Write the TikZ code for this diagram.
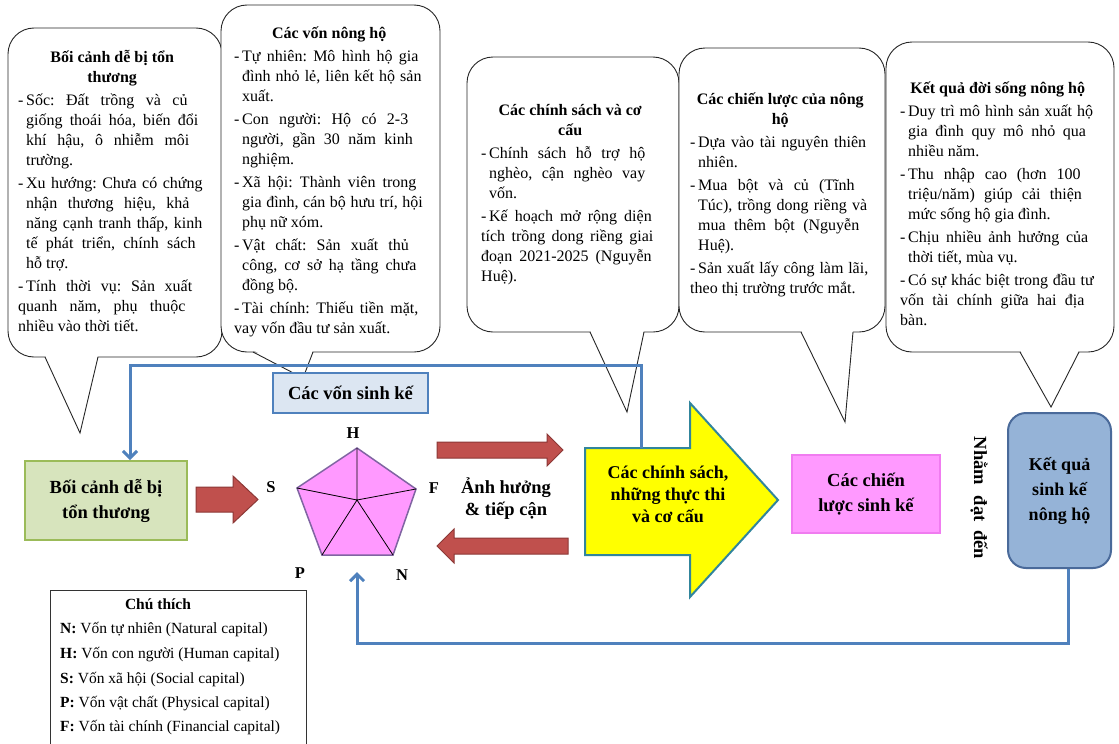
\documentclass[tikz,border=0pt]{standalone}
\usepackage{fontspec}
\setmainfont{Liberation Serif}
\usetikzlibrary{arrows.meta}
\definecolor{linkblue}{HTML}{4F81BD}
\definecolor{bcfill}{HTML}{D7E4BD}
\definecolor{bcdraw}{HTML}{9BBB59}
\definecolor{vskfill}{HTML}{DCE6F2}
\definecolor{vskdraw}{HTML}{4F81BD}
\definecolor{pentfill}{HTML}{FF99FF}
\definecolor{pentdraw}{HTML}{8064A2}
\definecolor{redfill}{HTML}{C0504D}
\definecolor{reddraw}{HTML}{8C3836}
\definecolor{yelfill}{HTML}{FFFF00}
\definecolor{yeldraw}{HTML}{31859C}
\definecolor{pinkfill}{HTML}{FF99FF}
\definecolor{pinkdraw}{HTML}{F07CF0}
\definecolor{kqfill}{HTML}{95B3D7}
\definecolor{kqdraw}{HTML}{4A6A9A}
\newcommand{\cset}{\frenchspacing\spaceskip=0.25em plus 0.8em minus 0.15em\relax\parskip=3pt\relax\parindent=0pt\relax\hyphenpenalty=10000\relax\exhyphenpenalty=10000\relax\tolerance=10000\relax}
\newcommand{\itm}[1]{\par\hangindent=8pt\relax\hangafter=1\relax\noindent\makebox[8pt][l]{-}#1}
\newcommand{\ctitle}[1]{{\centering\bfseries\rule{0pt}{15pt}#1\par}}
\newcommand{\callout}[8]{%
  \draw[callbox] (#1,#2) rectangle (#3,#4);
  \fill[white] (#5,#4-2) -- (#7,#8) -- (#6,#4-2) -- cycle;
  \draw[calledge] (#5,#4) -- (#7,#8) -- (#6,#4);}
\begin{document}
\frenchspacing
\begin{tikzpicture}[x=1pt,y=-1pt,
  callbox/.style={draw=black!85, line width=0.9pt, fill=white, rounded corners=26pt},
  calledge/.style={draw=black!85, line width=0.9pt, line join=miter},
  calltext/.style={anchor=north west, inner sep=0pt, text width=#1,
    font=\fontsize{16}{20}\selectfont},
  mainfont/.style={font=\fontsize{18.5}{25}\selectfont\bfseries, align=center},
  bcbox/.style={mainfont, draw=bcdraw, fill=bcfill, line width=2pt, minimum width=162pt, minimum height=79pt, inner sep=0pt},
  vskbox/.style={mainfont, draw=vskdraw, fill=vskfill, line width=2pt, minimum width=155pt, minimum height=40pt, inner sep=0pt},
  pinkbox/.style={mainfont, draw=pinkdraw, fill=pinkfill, line width=1.5pt, minimum width=148pt, minimum height=78pt, inner sep=0pt},
  kqbox/.style={font=\fontsize{18}{25}\selectfont\bfseries, align=center, draw=kqdraw, fill=kqfill, line width=2pt, rounded corners=18pt, minimum width=103pt, minimum height=155pt, inner sep=0pt},
  redarrow/.style={fill=redfill, draw=reddraw, line width=1pt},
  yelarrow/.style={fill=yelfill, draw=yeldraw, line width=2pt, line join=miter},
  pent/.style={fill=pentfill, draw=pentdraw, line width=1.5pt, line join=miter},
  pentin/.style={draw=black, line width=0.8pt},
  plabel/.style={font=\fontsize{16.5}{20}\selectfont\bfseries, inner sep=0pt},
  blueline/.style={draw=linkblue, line width=3pt, -{Straight Barb[length=7pt,width=14pt]}},
  legbox/.style={draw=black!80, line width=0.8pt, minimum width=256pt, minimum height=170pt, anchor=north west, inner sep=0pt},
  legtext/.style={font=\fontsize{15.5}{20}\selectfont, anchor=base west, inner sep=0pt}
]
\useasboundingbox (0,0) rectangle (1119,744);
\fill[white] (0,0) rectangle (1119,744);

% callouts
\callout{8}{28}{222}{357}{45}{98}{80}{433}
\callout{221}{5}{440}{352}{253}{313}{303}{378}
\callout{467}{57}{679}{332}{590}{644}{627}{412}
\callout{679}{48}{885}{332}{801}{853}{845}{422}
\callout{886}{42}{1114}{352}{1020}{1079}{1051}{407}

\node[calltext=188pt] (t1) at (18,47) {\cset\ctitle{Bối cảnh dễ bị tổn\\ thương}%
\itm{Sốc: Đất trồng và củ\linebreak giống thoái hóa, biến đổi\linebreak khí hậu, ô nhiễm môi\linebreak trường.}%
\itm{Xu hướng: Chưa có chứng\linebreak nhận thương hiệu, khả\linebreak năng cạnh tranh thấp, kinh\linebreak tế phát triển, chính sách\linebreak hỗ trợ.}%
\itm{Tính thời vụ: Sản xuất\linebreak quanh năm, phụ thuộc\linebreak nhiều vào thời tiết.}};

\node[calltext=190pt] (t2) at (234,23) {\cset\ctitle{Các vốn nông hộ}%
\itm{Tự nhiên: Mô hình hộ gia\linebreak đình nhỏ lẻ, liên kết hộ sản\linebreak xuất.}%
\itm{Con người: Hộ có 2-3\linebreak người, gần 30 năm kinh\linebreak nghiệm.}%
\itm{Xã hội: Thành viên trong\linebreak gia đình, cán bộ hưu trí, hội\linebreak phụ nữ xóm.}%
\itm{Vật chất: Sản xuất thủ\linebreak công, cơ sở hạ tầng chưa\linebreak đồng bộ.}%
\itm{Tài chính: Thiếu tiền mặt,\linebreak vay vốn đầu tư sản xuất.}};

\node[calltext=178pt] (t3) at (481,100) {\cset\ctitle{Các chính sách và cơ\\ cấu}%
\itm{Chính sách hỗ trợ hộ\linebreak nghèo, cận nghèo vay\linebreak vốn.}%
\itm{Kế hoạch mở rộng diện\linebreak tích trồng dong riềng giai\linebreak đoạn 2021-2025 (Nguyễn\linebreak Huệ).}};

\node[calltext=180pt] (t4) at (690,89) {\cset\ctitle{Các chiến lược của nông\\ hộ}%
\itm{Dựa vào tài nguyên thiên\linebreak nhiên.}%
\itm{Mua bột và củ (Tĩnh\linebreak Túc), trồng dong riềng và\linebreak mua thêm bột (Nguyễn\linebreak Huệ).}%
\itm{Sản xuất lấy công làm lãi,\linebreak theo thị trường trước mắt.}};

\node[calltext=195pt] (t5) at (900,78) {\cset\ctitle{Kết quả đời sống nông hộ}%
\itm{Duy trì mô hình sản xuất hộ\linebreak gia đình quy mô nhỏ qua\linebreak nhiều năm.}%
\itm{Thu nhập cao (hơn 100\linebreak triệu/năm) giúp cải thiện\linebreak mức sống hộ gia đình.}%
\itm{Chịu nhiều ảnh hưởng của\linebreak thời tiết, mùa vụ.}%
\itm{Có sự khác biệt trong đầu tư\linebreak vốn tài chính giữa hai địa\linebreak bàn.}};

% main boxes
\node[bcbox] (bc) at (106,500.5) {Bối cảnh dễ bị\\tổn thương};
\node[vskbox] (vsk) at (350.5,393) {Các vốn sinh kế};
\node[pinkbox] (cl) at (866,494) {Các chiến\\lược sinh kế};
\node[kqbox] (kq) at (1059.5,490.5) {Kết quả\\sinh kế\\nông hộ};
\node[font=\fontsize{18.5}{25}\selectfont\bfseries, rotate=-90] (nd) at (979,498) {Nhằm\hspace{6pt} đạt\hspace{4pt} đến};

% red arrows
\draw[redarrow] (196,487) -- (233,487) -- (233,476) -- (258,499.5) -- (233,523) -- (233,512) -- (196,512) -- cycle;
\draw[redarrow] (437,442) -- (547,442) -- (547,434) -- (563,450) -- (547,466) -- (547,458) -- (437,458) -- cycle;
\draw[redarrow] (437,546) -- (454,529) -- (454,538) -- (568,538) -- (568,554) -- (454,554) -- (454,563) -- cycle;
\node[font=\fontsize{18.5}{22}\selectfont\bfseries, align=center] (ah) at (506,499) {Ảnh hưởng\\\& tiếp cận};

% pentagon
\coordinate (vH) at (357,448);
\coordinate (vF) at (416,489);
\coordinate (vN) at (393,555);
\coordinate (vP) at (322,555);
\coordinate (vS) at (297,488);
\coordinate (vO) at (357,500);
\draw[pent] (vH) -- (vF) -- (vN) -- (vP) -- (vS) -- cycle;
\draw[pentin] (vO) -- (vH) (vO) -- (vF) (vO) -- (vN) (vO) -- (vP) (vO) -- (vS);
\node[plabel] (lH) at (353,433) {H};
\node[plabel] (lS) at (271,487) {S};
\node[plabel] (lF) at (434,488) {F};
\node[plabel] (lP) at (300,573) {P};
\node[plabel] (lN) at (402,575) {N};

% yellow arrow
\draw[yelarrow] (585,448) -- (690,448) -- (690,403) -- (778,500) -- (690,597) -- (690,555) -- (585,555) -- cycle;
\coordinate (ytop) at (641,448);
\node[font=\fontsize{18}{22}\selectfont\bfseries, align=center] (yt) at (668,494) {Các chính sách,\\những thực thi\\và cơ cấu};

% blue feedback lines
\coordinate (pb) at (357,572);
\draw[blueline] (ytop) -- (641,365) -| ([xshift=24pt]bc.north);
\draw[blueline] ([xshift=8.5pt]kq.south) -- (1068,643) -| (pb);

% legend
\node[legbox] (leg) at (50,590) {};
\node[font=\fontsize{15.5}{20}\selectfont\bfseries, inner sep=0pt] (legt) at (158,604) {Chú thích};
\node[legtext] (l1) at (60,633) {\textbf{N:} Vốn tự nhiên (Natural capital)};
\node[legtext] (l2) at (60,658) {\textbf{H:} Vốn con người (Human capital)};
\node[legtext] (l3) at (60,683) {\textbf{S:} Vốn xã hội (Social capital)};
\node[legtext] (l4) at (60,707) {\textbf{P:} Vốn vật chất (Physical capital)};
\node[legtext] (l5) at (60,731) {\textbf{F:} Vốn tài chính (Financial capital)};
\end{tikzpicture}
\end{document}
